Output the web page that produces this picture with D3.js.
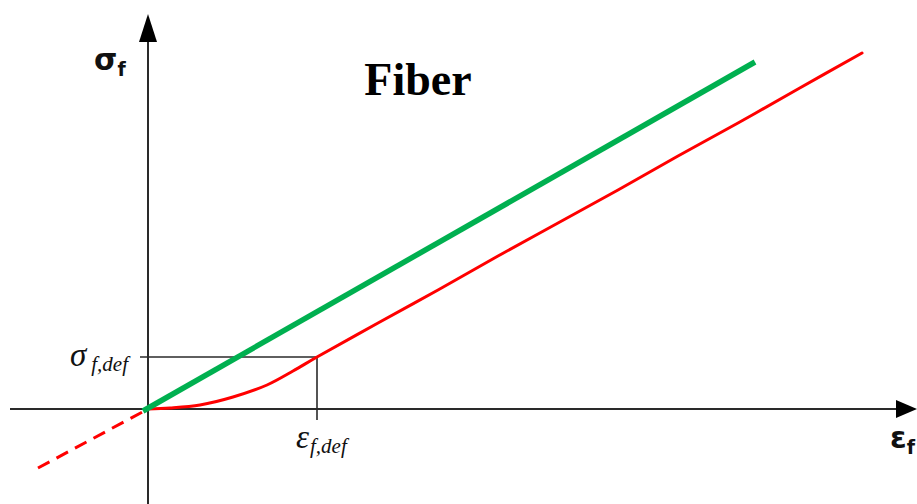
<!DOCTYPE html>
<html><head><meta charset="utf-8">
<script src="https://cdn.jsdelivr.net/npm/d3@7"></script>
<style>html,body{margin:0;padding:0;background:#fff;}svg{display:block;}</style>
</head><body>
<script>
// Data (abstract strain/stress units)
const greenLine = [[-0.05, -0.02], [6.07, 3.47]];
const redCurve = [[0, 0], [0.22, 0.01], [0.52, 0.04], [0.85, 0.12], [1.19, 0.24], [1.45, 0.38], [1.69, 0.52],
  [2.3, 0.86], [2.9, 1.19], [3.5, 1.53], [4.1, 1.86], [4.7, 2.19], [5.3, 2.53], [5.9, 2.86], [6.5, 3.2], [7.14, 3.56]];
const redDashed = [[-1.10, -0.59], [0, 0]];
const defPoint = [1.69, 0.52];
const xLabel = ["ε", "f"];
const yLabel = ["σ", "f"];
const tickX = ["ε", "f,def"];
const tickY = ["σ", "f,def"];
const title = "Fiber";

const W = 917, H = 504;
const x = d3.scaleLinear().domain([-1.48, 7.69]).range([0, W]);
const y = d3.scaleLinear().domain([-0.95, 4.09]).range([H, 0]);

const svg = d3.select("body").append("svg").attr("width", W).attr("height", H);
const axisColor = "#2a2a2a";

// axes
svg.append("line").attr("x1", x(-1.38)).attr("x2", x(7.52)).attr("y1", y(0)).attr("y2", y(0))
  .attr("stroke", axisColor).attr("stroke-width", 2);
svg.append("line").attr("x1", x(0)).attr("x2", x(0)).attr("y1", y(-0.95)).attr("y2", y(3.7))
  .attr("stroke", axisColor).attr("stroke-width", 2);
// arrowheads
const ax0 = x(0), ay0 = y(0);
svg.append("path").attr("d", `M${ax0},14 L${ax0 - 9},42 L${ax0 + 9},42 Z`).attr("fill", "#000");
svg.append("path").attr("d", `M917,${ay0} L896,${ay0 - 9} L896,${ay0 + 9} Z`).attr("fill", "#000");

// reference box lines
svg.append("line").attr("x1", x(-0.08)).attr("x2", x(defPoint[0])).attr("y1", y(defPoint[1])).attr("y2", y(defPoint[1]))
  .attr("stroke", axisColor).attr("stroke-width", 1.6);
svg.append("line").attr("x1", x(defPoint[0])).attr("x2", x(defPoint[0])).attr("y1", y(defPoint[1])).attr("y2", y(-0.11))
  .attr("stroke", axisColor).attr("stroke-width", 1.6);

const line = d3.line().x(d => x(d[0])).y(d => y(d[1])).curve(d3.curveCatmullRom);

// red curve
svg.append("path").attr("d", line(redCurve)).attr("fill", "none").attr("stroke", "#ff0000")
  .attr("stroke-width", 3).attr("stroke-linecap", "round").attr("stroke-linejoin", "round");
svg.append("path").attr("d", line(redDashed)).attr("fill", "none").attr("stroke", "#ff0000")
  .attr("stroke-width", 3).attr("stroke-dasharray", "13,8");
// green line
svg.append("path").attr("d", line(greenLine)).attr("fill", "none").attr("stroke", "#00b050")
  .attr("stroke-width", 5.5);

// Labels
const yl = svg.append("text").attr("x", 94).attr("y", 70).attr("font-family", "Verdana, 'DejaVu Sans', sans-serif")
  .attr("font-weight", "bold").attr("fill", "#111");
yl.append("tspan").attr("font-size", 30).text(yLabel[0]);
yl.append("tspan").attr("font-size", 19).attr("dy", 6).text(yLabel[1]);

const xl = svg.append("text").attr("x", 890).attr("y", 448).attr("font-family", "Verdana, 'DejaVu Sans', sans-serif")
  .attr("font-weight", "bold").attr("fill", "#111");
xl.append("tspan").attr("font-size", 30).text(xLabel[0]);
xl.append("tspan").attr("font-size", 19).attr("dy", 6).text(xLabel[1]);

svg.append("text").attr("x", 418).attr("y", 95).attr("text-anchor", "middle")
  .attr("font-family", "'Liberation Serif', 'Times New Roman', serif").attr("font-weight", "bold")
  .attr("font-size", 46).attr("fill", "#000").text(title);

const ty = svg.append("text").attr("x", 70).attr("y", 366).attr("font-family", "'Liberation Serif', 'Times New Roman', serif")
  .attr("font-style", "italic").attr("fill", "#111");
ty.append("tspan").attr("font-size", 33).text(tickY[0]);
ty.append("tspan").attr("font-size", 21).attr("dx", 5).attr("dy", 5).text(tickY[1]);

const tx = svg.append("text").attr("x", 296).attr("y", 448).attr("font-family", "'Liberation Serif', 'Times New Roman', serif")
  .attr("font-style", "italic").attr("fill", "#111");
tx.append("tspan").attr("font-size", 33).text(tickX[0]);
tx.append("tspan").attr("font-size", 21).attr("dx", 1).attr("dy", 5).text(tickX[1]);
</script>
</body></html>
